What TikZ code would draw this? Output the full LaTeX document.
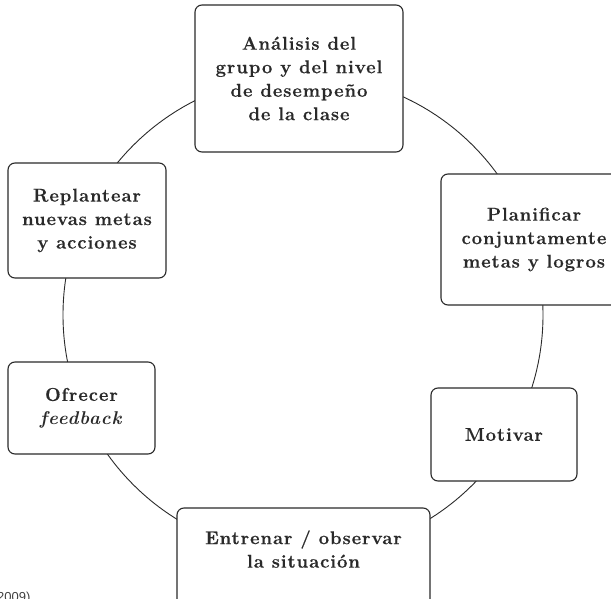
\documentclass[tikz,border=0pt]{standalone}
\usepackage{fontspec}
\newfontfamily\srcfont{Liberation Sans}
\newfontfamily\stagefont[LetterSpace=5,BoldFeatures={FakeBold=0.4,LetterSpace=5}]{Latin Modern Roman}
\definecolor{ink}{HTML}{2A2A2A}
\begin{document}
\begin{tikzpicture}[x=1pt,y=-1pt,
  stagebox/.style={draw=ink, line width=1.1pt, rounded corners=7pt, fill=white, inner sep=0pt, align=center,
     text=ink, font=\stagefont\fontsize{18.5}{23.5}\selectfont\bfseries},
  stagetext/.style={inner sep=0pt, align=center, text=ink, font=\stagefont\fontsize{18.5}{23.5}\selectfont\bfseries}]
\useasboundingbox (0,0) rectangle (611,599);
\node[circle, draw=ink, line width=0.9pt, minimum size=480pt, inner sep=0pt] (ring) at (303,315) {};
\node[stagebox, minimum width=208pt, minimum height=147pt] (analisis) at (299,78.5)
  {Análisis del\\grupo y del nivel\\de desempeño\\de la clase};
\node[stagebox, minimum width=158pt, minimum height=115pt] (replantear) at (87,220.5)
  {Replantear\\nuevas metas\\y acciones};
\node[stagebox, minimum width=186pt, minimum height=131pt] (planificar) at (534,239.5)
  {Planificar\\conjuntamente\\metas y logros};
\node[stagebox, minimum width=147pt, minimum height=92pt] (ofrecer) at (81.5,408)
  {Ofrecer\\\textit{feedback}};
\node[stagebox, minimum width=146pt, minimum height=93pt] (motivar) at (504,434.5)
  {Motivar};
\node[stagebox, minimum width=253pt, minimum height=110pt] (entrenarbox) at (303.5,563) {};
\node[stagetext] (entrenar) at (303.5,549) {Entrenar / observar\\la situación};
\node[anchor=base west, inner sep=0pt, text=black!75, font=\srcfont\fontsize{13}{15}\selectfont] (fuente) at (-3,601) {2009)};
\end{tikzpicture}
\end{document}
